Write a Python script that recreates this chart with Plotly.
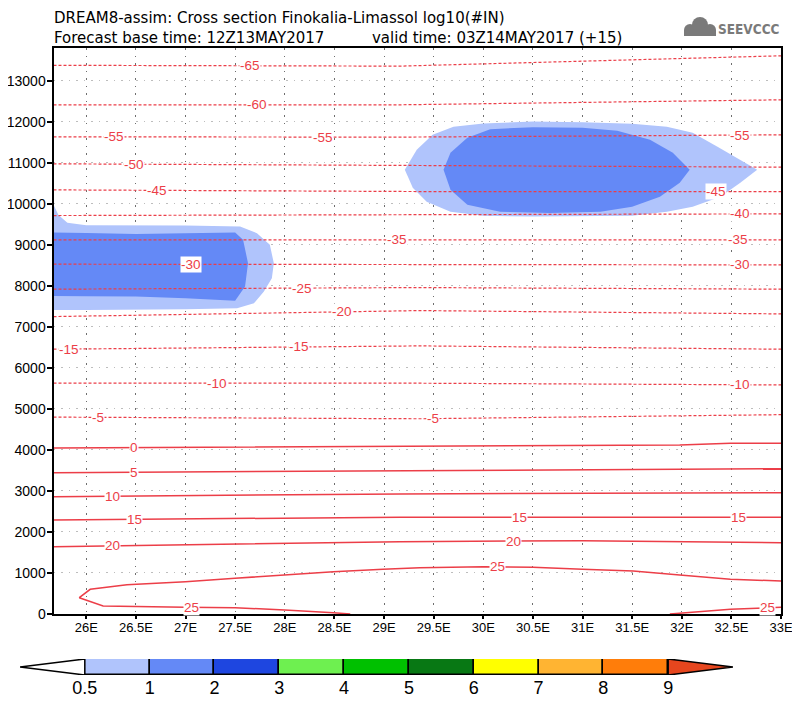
import numpy as np
import plotly.graph_objects as go

# ---------------- axes ----------------
x_ticks = [26, 26.5, 27, 27.5, 28, 28.5, 29, 29.5, 30, 30.5, 31, 31.5, 32, 32.5, 33]
x_tick_labels = ["26E", "26.5E", "27E", "27.5E", "28E", "28.5E", "29E", "29.5E",
                 "30E", "30.5E", "31E", "31.5E", "32E", "32.5E", "33E"]
y_ticks = [0, 1000, 2000, 3000, 4000, 5000, 6000, 7000, 8000, 9000, 10000, 11000, 12000, 13000]
y_tick_labels = [str(v) for v in y_ticks]
x_range = [25.67, 33.0]
y_range = [0, 13800]

# ---------------- log10(#IN) shading levels ----------------
levels = [0.5, 1, 2, 3, 4, 5, 6, 7, 8, 9]
level_labels = ["0.5", "1", "2", "3", "4", "5", "6", "7", "8", "9"]
level_colors = ["#b0c4fc", "#6489f6", "#1e46e0", "#6ef050", "#00c000",
                "#087814", "#ffff00", "#ffb432", "#ff7d0a"]
under_color = "#ffffff"
over_color = "#e6461e"

# region log10(IN) > 0.5 (west, 8-9.5 km)
in05_west_x = [25.67, 25.67, 25.72, 25.81, 26.0, 26.5, 27.0, 27.55, 27.72, 27.85, 27.89,
               27.87, 27.79, 27.69, 27.52, 27.0, 26.5, 26.0, 25.67]
in05_west_h = [7410, 9980, 9730, 9540, 9480, 9480, 9470, 9446, 9285, 9000, 8554,
               8188, 7861, 7578, 7456, 7430, 7415, 7410, 7410]
# region log10(IN) > 1 (west)
in1_west_x = [25.67, 25.67, 26.0, 26.5, 27.0, 27.5, 27.58, 27.63, 27.60, 27.50, 27.0, 26.5, 26.0, 25.67]
in1_west_h = [7756, 9300, 9290, 9268, 9285, 9300, 9122, 8554, 7983, 7637, 7700, 7739, 7750, 7756]
# region log10(IN) > 0.5 (east, 10-12 km)
in05_east_x = [29.21, 29.33, 29.49, 29.70, 30.0, 30.5, 31.0, 31.5, 31.85, 32.11, 32.36, 32.59,
               32.76, 32.59, 32.39, 32.11, 31.85, 31.5, 31.0, 30.5, 30.0, 29.67, 29.43, 29.29, 29.21]
in05_east_h = [10830, 11317, 11683, 11878, 11960, 12005, 11990, 11951, 11878, 11732, 11390, 11073,
               10830, 10512, 10171, 9927, 9805, 9707, 9690, 9690, 9707, 9805, 10049, 10390, 10830]
# region log10(IN) > 1 (east)
in1_east_x = [29.60, 29.67, 29.84, 30.07, 30.5, 31.0, 31.35, 31.68, 31.91, 32.08, 31.98, 31.78,
              31.5, 31.18, 30.67, 30.17, 29.84, 29.67, 29.60]
in1_east_h = [10830, 11244, 11610, 11820, 11870, 11854, 11780, 11561, 11244, 10830, 10512, 10171,
              9927, 9805, 9775, 9805, 9976, 10341, 10830]

# ---------------- temperature isotherms (deg C) ----------------
t_m65_x = [25.67, 29.16, 33.0]; t_m65_h = [13378, 13358, 13610]
t_m60_x = [25.67, 29.16, 33.0]; t_m60_h = [12415, 12415, 12537]
t_m55_x = [25.67, 29.16, 33.0]; t_m55_h = [11634, 11627, 11683]
t_m50_x = [25.67, 29.36, 33.0]; t_m50_h = [10976, 10927, 10895]
t_m45_x = [25.67, 29.36, 33.0]; t_m45_h = [10341, 10300, 10300]
t_m40_x = [25.67, 29.36, 33.0]; t_m40_h = [9715, 9735, 9756]
t_m35_x = [25.67, 29.36, 33.0]; t_m35_h = [9122, 9122, 9122]
t_m30_x = [25.67, 29.36, 33.0]; t_m30_h = [8529, 8529, 8512]
t_m25_x = [25.67, 29.36, 33.0]; t_m25_h = [7920, 7959, 7920]
t_m20_x = [25.67, 29.36, 33.0]; t_m20_h = [7251, 7398, 7317]
t_m15_x = [25.67, 29.36, 33.0]; t_m15_h = [6456, 6537, 6456]
t_m10_x = [25.67, 29.36, 33.0]; t_m10_h = [5627, 5627, 5585]
t_m5_x = [25.67, 29.36, 33.0];  t_m5_h = [4800, 4760, 4860]
t_0_x = [25.67, 29.16, 31.98, 32.49, 33.0]; t_0_h = [4049, 4081, 4122, 4163, 4163]
t_5_x = [25.67, 29.16, 31.98, 33.0];       t_5_h = [3446, 3487, 3529, 3544]
t_10_x = [25.67, 29.16, 33.0];             t_10_h = [2861, 2927, 2959]
t_15_x = [25.67, 29.16, 33.0];             t_15_h = [2293, 2359, 2359]
t_20_x = [25.67, 29.16, 31.0, 33.0];       t_20_h = [1641, 1764, 1788, 1739]
t_25_upper_x = [25.93, 26.04, 26.41, 27.0, 27.5, 28.0, 28.49, 28.99, 29.36, 30.0, 30.5,
                31.0, 31.51, 31.98, 32.49, 33.0]
t_25_upper_h = [398, 602, 715, 788, 871, 951, 1032, 1090, 1129, 1154, 1139,
                1090, 1049, 951, 846, 805]
t_25_lower_x = [25.93, 26.17, 27.0, 27.5, 28.0, 28.49, 28.66]
t_25_lower_h = [398, 195, 163, 154, 98, 32, 0]
t_25_east_x = [31.88, 32.49, 33.0]
t_25_east_h = [0, 115, 163]

# label positions (longitude) along each isotherm
iso_label_lons = {
    -65: [27.65], -60: [27.72], -55: [26.28, 28.39, 32.59], -50: [26.48],
    -45: [26.71, 32.35], -40: [32.59], -35: [29.13, 32.57], -30: [27.06, 32.59],
    -25: [28.17], -20: [28.58], -15: [25.83, 28.14], -10: [27.32, 32.59],
    -5: [26.12, 29.49], 0: [26.48], 5: [26.48], 10: [26.26],
    15: [26.49, 30.37, 32.57], 20: [26.26, 30.30],
}
t25_label_lower_lon = [27.06]
t25_label_upper_lon = [30.14]
t25_label_east_lon = [32.86]

isotherms = [
    (-65, t_m65_x, t_m65_h), (-60, t_m60_x, t_m60_h), (-55, t_m55_x, t_m55_h),
    (-50, t_m50_x, t_m50_h), (-45, t_m45_x, t_m45_h), (-40, t_m40_x, t_m40_h),
    (-35, t_m35_x, t_m35_h), (-30, t_m30_x, t_m30_h), (-25, t_m25_x, t_m25_h),
    (-20, t_m20_x, t_m20_h), (-15, t_m15_x, t_m15_h), (-10, t_m10_x, t_m10_h),
    (-5, t_m5_x, t_m5_h), (0, t_0_x, t_0_h), (5, t_5_x, t_5_h), (10, t_10_x, t_10_h),
    (15, t_15_x, t_15_h), (20, t_20_x, t_20_h),
]

title_line1 = "DREAM8-assim: Cross section Finokalia-Limassol log10(#IN)"
title_line2a = "Forecast base time: 12Z13MAY2017"
title_line2b = "valid time: 03Z14MAY2017 (+15)"
logo_text = "SEEVCCC"

# ---------------- styling ----------------
RED = "rgb(236,62,72)"
FONT = "Liberation Sans, Arial, sans-serif"
OFF = 8                      # page body margin around the figure div
W, H = 800 - OFF, 704 - OFF
ML, MR, MT, MB = 4, 4, 4, 4


def px(xpage):
    return (xpage - OFF - ML) / (W - ML - MR)


def py(ypage):
    return (H - MB - (ypage - OFF)) / (H - MT - MB)


fig = go.Figure()

# shading
shade_regions = [(in05_west_x, in05_west_h, level_colors[0]),
                 (in05_east_x, in05_east_h, level_colors[0]),
                 (in1_west_x, in1_west_h, level_colors[1]),
                 (in1_east_x, in1_east_h, level_colors[1])]
for xs, hs, col in shade_regions:
    fig.add_trace(go.Scatter(x=xs, y=hs, mode="lines", fill="toself", fillcolor=col,
                             line=dict(width=0, color=col), hoverinfo="skip"))

# isotherms
for lev, xs, hs in isotherms:
    dashed = lev < 0
    fig.add_trace(go.Scatter(x=xs, y=hs, mode="lines",
                             line=dict(color=RED, width=1.2 if dashed else 1.5,
                                       dash="3px,2px" if dashed else "solid"),
                             hoverinfo="skip"))
t25_main_x = t_25_lower_x[::-1] + t_25_upper_x[1:]
t25_main_h = t_25_lower_h[::-1] + t_25_upper_h[1:]
for xs, hs in [(t25_main_x, t25_main_h), (t_25_east_x, t_25_east_h)]:
    fig.add_trace(go.Scatter(x=xs, y=hs, mode="lines", line=dict(color=RED, width=1.5),
                             hoverinfo="skip"))

# isotherm labels
labels = []
for lev, xs, hs in isotherms:
    for lon in iso_label_lons[lev]:
        labels.append((lev, lon, float(np.interp(lon, xs, hs))))
for lon in t25_label_lower_lon:
    labels.append((25, lon, float(np.interp(lon, t_25_lower_x, t_25_lower_h))))
for lon in t25_label_upper_lon:
    labels.append((25, lon, float(np.interp(lon, t_25_upper_x, t_25_upper_h))))
for lon in t25_label_east_lon:
    labels.append((25, lon, float(np.interp(lon, t_25_east_x, t_25_east_h))))
for lev, lon, h in labels:
    fig.add_annotation(x=lon, y=h, xref="x", yref="y", text=str(lev), showarrow=False,
                       font=dict(family=FONT, size=13.5, color=RED), bgcolor="white",
                       borderpad=0, xanchor="center", yanchor="middle")

# ---------------- colour bar (own axes) ----------------
n_int = len(level_colors)
fig.add_trace(go.Bar(x=list(range(n_int)), y=[1] * n_int, base=0, width=1,
                     marker=dict(color=level_colors, line=dict(color="black", width=1.5)),
                     xaxis="x2", yaxis="y2", hoverinfo="skip"))
fig.add_trace(go.Scatter(x=[-0.5, -1.5, -0.5, -0.5], y=[1, 0.5, 0, 1], mode="lines",
                         fill="toself", fillcolor=under_color,
                         line=dict(color="black", width=1.5), xaxis="x2", yaxis="y2",
                         hoverinfo="skip"))
fig.add_trace(go.Scatter(x=[n_int - 0.5, n_int + 0.5, n_int - 0.5, n_int - 0.5],
                         y=[1, 0.5, 0, 1], mode="lines", fill="toself", fillcolor=over_color,
                         line=dict(color="black", width=1.5), xaxis="x2", yaxis="y2",
                         hoverinfo="skip"))

axis_common = dict(showline=True, linecolor="black", linewidth=2, mirror=True,
                   ticks="outside", tickwidth=1.5, tickcolor="black",
                   zeroline=False, showgrid=True, griddash="1.5px,6px", gridwidth=1.2,
                   layer="above traces", automargin=False)

fig.update_layout(
    width=W, height=H, margin=dict(l=ML, r=MR, t=MT, b=MB, autoexpand=False),
    plot_bgcolor="white", paper_bgcolor="white", showlegend=False, bargap=0,
    xaxis=dict(domain=[px(53.5), px(781)], range=x_range, tickvals=x_ticks,
               ticktext=x_tick_labels, gridcolor="#6e6e6e", anchor="y", ticklen=3,
               ticklabelstandoff=-3,
               tickfont=dict(family=FONT, size=13, color="black"), **axis_common),
    yaxis=dict(domain=[py(614), py(48)], range=y_range, tickvals=y_ticks,
               ticktext=y_tick_labels, gridcolor="#bdbdbd", anchor="x", ticklen=5,
               ticklabelstandoff=-2,
               tickfont=dict(family=FONT, size=14, color="black"), **axis_common),
    xaxis2=dict(domain=[px(20), px(733)], range=[-1.5, n_int + 0.5], anchor="y2",
                tickvals=[i - 0.5 for i in range(len(levels))], ticktext=level_labels,
                showgrid=False, zeroline=False, showline=False, ticks="", automargin=False,
                tickfont=dict(family=FONT, size=18, color="black")),
    yaxis2=dict(domain=[py(675), py(659)], range=[0, 1], anchor="x2", visible=False,
                automargin=False),
)

# title (one two-line text block)
gap = "&nbsp;" * 10
fig.add_annotation(x=px(53), y=py(48), xref="paper", yref="paper", xanchor="left",
                   yanchor="bottom", showarrow=False, align="left", borderpad=0,
                   text=title_line1 + "<br>" + title_line2a + gap + title_line2b,
                   font=dict(family="DejaVu Sans, Liberation Sans", size=15, color="black"))

# logo: drawn cloud + text
cloud_col = "#7a7a7a"
for cx, cy, r in [(690, 30, 6), (700, 25, 8), (710, 30, 6)]:
    fig.add_shape(type="circle", xref="paper", yref="paper",
                  x0=px(cx - r), x1=px(cx + r), y0=py(cy + r), y1=py(cy - r),
                  fillcolor=cloud_col, line=dict(width=0))
fig.add_shape(type="rect", xref="paper", yref="paper", x0=px(684), x1=px(716),
              y0=py(36), y1=py(30), fillcolor=cloud_col, line=dict(width=0))
fig.add_annotation(x=px(781), y=py(29), xref="paper", yref="paper", xanchor="right",
                   yanchor="middle", showarrow=False, text="<b>" + logo_text + "</b>",
                   borderpad=0,
                   font=dict(family="DejaVu Sans Condensed, Liberation Sans Narrow, Liberation Sans",
                             size=13.5, color=cloud_col))

fig.write_html("out.html")
